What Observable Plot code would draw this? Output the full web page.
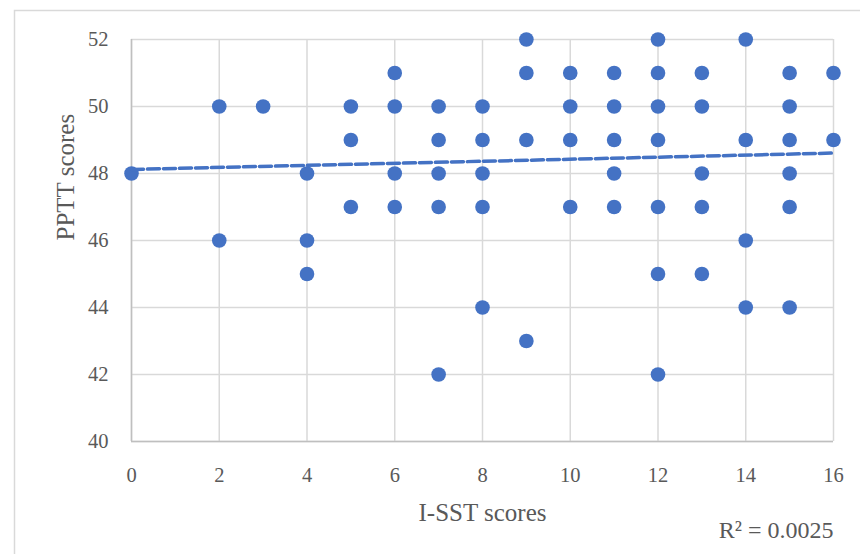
<!DOCTYPE html>
<html>
<head>
<meta charset="utf-8">
<script src="https://cdn.jsdelivr.net/npm/d3@7"></script>
<script src="https://cdn.jsdelivr.net/npm/@observablehq/plot@0.6"></script>
<style>
  html, body { margin: 0; padding: 0; background: #fff; }
</style>
</head>
<body>
<div id="chart"></div>
<script>
// I-SST scores (x) and PPTT scores (y) for each point
const isst  = [0, 2,2, 3, 4,4,4, 5,5,5, 6,6,6,6, 7,7,7,7,7, 8,8,8,8,8, 9,9,9,9, 10,10,10,10, 11,11,11,11,11, 12,12,12,12,12,12,12, 13,13,13,13,13, 14,14,14,14, 15,15,15,15,15,15, 16,16];
const pptt  = [48, 50,46, 50, 48,46,45, 50,49,47, 51,50,48,47, 50,49,48,47,42, 50,49,48,47,44, 52,51,49,43, 51,50,49,47, 51,50,49,48,47, 52,51,50,49,47,45,42, 51,50,48,47,45, 52,49,46,44, 51,50,49,48,47,44, 51,49];
// linear trend line endpoints
const trendX = [0, 16];
const trendY = [48.12, 48.61];
const xTicks = [0, 2, 4, 6, 8, 10, 12, 14, 16];
const yTicks = [40, 42, 44, 46, 48, 50, 52];
const xTitle = "I-SST scores";
const yTitle = "PPTT scores";
const r2Label = "R² = 0.0025";

const points = isst.map((x, i) => ({x, y: pptt[i]}));
const trend = trendX.map((x, i) => ({x, y: trendY[i]}));

const textColor = "#595959";
const blue = "#4472C4";

const plot = Plot.plot({
  width: 860,
  height: 554,
  marginLeft: 131,
  marginRight: 27,
  marginTop: 39,
  marginBottom: 113,
  style: {fontFamily: "'Liberation Serif', serif", fontSize: "20px", color: textColor, background: "#fff"},
  x: {domain: [0, 16]},
  y: {domain: [40, 52]},
  marks: [
    Plot.gridX(xTicks, {stroke: "#d9d9d9", strokeOpacity: 1, strokeWidth: 1.5}),
    Plot.gridY(yTicks, {stroke: "#d9d9d9", strokeOpacity: 1, strokeWidth: 1.5}),
    Plot.ruleX([0], {stroke: "#bfbfbf", strokeWidth: 1.5}),
    Plot.ruleY([40], {stroke: "#bfbfbf", strokeWidth: 1.5}),
    Plot.axisX(xTicks, {tickSize: 0, tickPadding: 26, fontSize: 20.5, fill: textColor, label: null}),
    Plot.axisY(yTicks, {tickSize: 0, tickPadding: 23, fontSize: 20.5, fill: textColor, label: null}),
    Plot.dot(points, {x: "x", y: "y", r: 7.3, fill: blue, stroke: null}),
    Plot.line(trend, {x: "x", y: "y", stroke: blue, strokeWidth: 3.5, strokeDasharray: "12,4"}),
    Plot.text([xTitle], {frameAnchor: "bottom", dy: 71, fontSize: 25, fill: textColor, lineAnchor: "middle"}),
    Plot.text([yTitle], {frameAnchor: "left", dx: -66, rotate: -90, fontSize: 25, fill: textColor, lineAnchor: "middle"}),
    Plot.text([r2Label], {frameAnchor: "bottom-right", dy: 89, textAnchor: "end", fontSize: 24, fill: textColor, lineAnchor: "middle"})
  ]
});

d3.select(plot).insert("rect", ":first-child")
  .attr("x", 14.5).attr("y", 10.5)
  .attr("width", 900).attr("height", 600)
  .attr("fill", "none").attr("stroke", "#d9d9d9").attr("stroke-width", 1.5);

document.getElementById("chart").appendChild(plot);
</script>
</body>
</html>
